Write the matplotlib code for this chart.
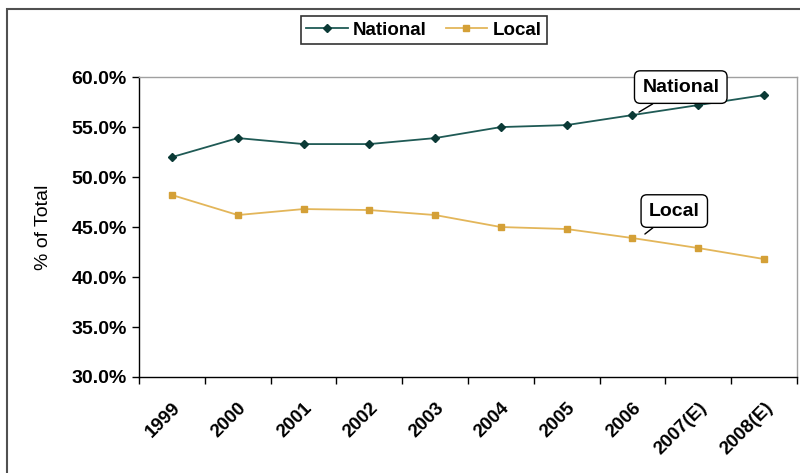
import numpy as np
import matplotlib.pyplot as plt
from matplotlib.patches import Rectangle

plt.rcParams['font.family'] = ['Liberation Sans', 'DejaVu Sans']

years = ['1999', '2000', '2001', '2002', '2003', '2004', '2005', '2006', '2007(E)', '2008(E)']
national = [52.0, 53.9, 53.3, 53.3, 53.9, 55.0, 55.2, 56.2, 57.2, 58.2]
local = [48.2, 46.2, 46.8, 46.7, 46.2, 45.0, 44.8, 43.9, 42.9, 41.8]

nat_col = '#1f5a55'
nat_mk = '#0b3a36'
loc_col = '#e3b65a'
loc_mk = '#d4a037'

fig = plt.figure(figsize=(8, 4.73), dpi=100)
ax = fig.add_axes([0.174, 0.203, 0.822, 0.634])

# outer chart frame
fig.patches.append(Rectangle((7/800, -0.05), 1.1, 1 - 9/473 + 0.05, transform=fig.transFigure,
                             fill=False, edgecolor='#505050', linewidth=1.5))

x = np.arange(len(years))
ax.plot(x, national, color=nat_col, marker='D', markersize=4.5, markerfacecolor=nat_mk,
        markeredgecolor=nat_mk, linewidth=1.3, label='National')
ax.plot(x, local, color=loc_col, marker='s', markersize=5, markerfacecolor=loc_mk,
        markeredgecolor=loc_mk, linewidth=1.3, label='Local')

ax.set_xlim(-0.5, len(years) - 0.5)
ax.set_ylim(30, 60)
ax.set_yticks(np.arange(30, 60.1, 5))
ax.set_yticklabels(['%.1f%%' % v for v in np.arange(30, 60.1, 5)], fontsize=14, fontweight='bold')

ax.set_xticks(x)
ax.set_xticklabels(years, rotation=45, ha='right', rotation_mode='anchor',
                   fontsize=13.5, fontweight='bold')
ax.set_xticks(np.arange(-0.5, len(years)), minor=True)
ax.tick_params(axis='x', which='major', length=0, pad=16)
ax.tick_params(axis='x', which='minor', length=5, width=1, color='black', direction='out')
ax.tick_params(axis='y', length=5, width=1, direction='out', pad=4)

ax.set_ylabel('% of Total', fontsize=14, labelpad=14)

for s in ['top', 'right']:
    ax.spines[s].set_color('#a0a0a0')
    ax.spines[s].set_linewidth(1)
for s in ['left', 'bottom']:
    ax.spines[s].set_color('black')
    ax.spines[s].set_linewidth(1)

leg = fig.legend(loc='center', bbox_to_anchor=(424/800, 1 - 30/473), ncol=2, frameon=True,
                 fancybox=False, prop={'weight': 'bold', 'size': 13.5}, handlelength=2.2,
                 borderpad=0.3, columnspacing=1.0, handletextpad=0.3)
leg.get_frame().set_edgecolor('black')
leg.get_frame().set_linewidth(1.2)

ax.annotate('National', xy=(7.1, 56.5), xytext=(7.15, 59.0), fontsize=14, fontweight='bold',
            bbox=dict(boxstyle='round,pad=0.4,rounding_size=0.3', fc='white', ec='black', lw=1),
            ha='left', va='center',
            arrowprops=dict(arrowstyle='-', color='black', lw=1, shrinkA=0, shrinkB=0))
ax.annotate('Local', xy=(7.19, 44.3), xytext=(7.25, 46.6), fontsize=14, fontweight='bold',
            bbox=dict(boxstyle='round,pad=0.4,rounding_size=0.3', fc='white', ec='black', lw=1),
            ha='left', va='center',
            arrowprops=dict(arrowstyle='-', color='black', lw=1, shrinkA=0, shrinkB=0))

fig.savefig('out.png', dpi=100)
